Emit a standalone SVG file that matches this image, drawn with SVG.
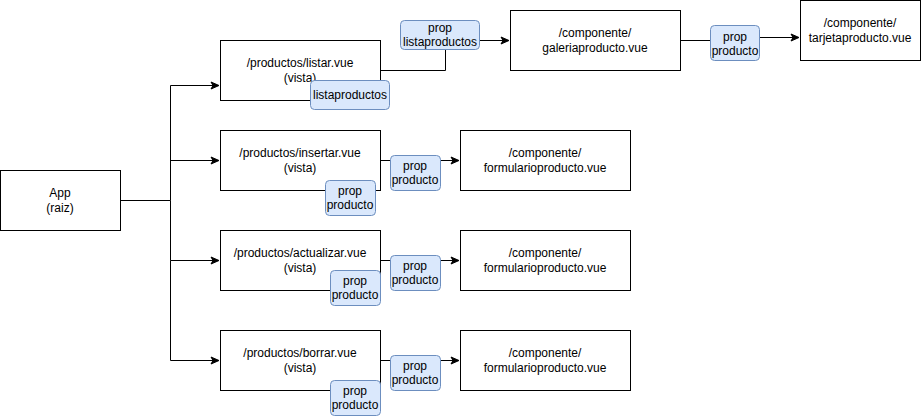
<svg xmlns="http://www.w3.org/2000/svg" width="921" height="416" viewBox="0 0 921 416">
<defs>
<marker id="arr" markerWidth="10" markerHeight="10" refX="8" refY="5" orient="auto" markerUnits="userSpaceOnUse">
<path d="M1,1.5 L9,5 L1,8.5 L3,5 Z" fill="#000" stroke="#000" stroke-width="1"/>
</marker>
<style>
.box{fill:#fff;stroke:#000;stroke-width:1}
.lbl{fill:#dae8fc;stroke:#6c8ebf;stroke-width:1}
text{font-family:"Liberation Sans",Arial,sans-serif;font-size:12px;fill:#000;text-anchor:middle}
.e{fill:none;stroke:#000;stroke-width:1}
</style>
</defs>
<rect width="921" height="416" fill="#fff"/>
<g id="connectors">
<path class="e" d="M120.5,200.5 H170.5 V85.5 H218" marker-end="url(#arr)"/>
<path class="e" d="M170.5,160.5 H218" marker-end="url(#arr)"/>
<path class="e" d="M170.5,200.5 V260.5 H218" marker-end="url(#arr)"/>
<path class="e" d="M170.5,260.5 V360.5 H218" marker-end="url(#arr)"/>
<path class="e" d="M380.5,70.5 H445.5 V40.5 H508" marker-end="url(#arr)"/>
<path class="e" d="M680.5,40.5 H735.5 V37.5 H798" marker-end="url(#arr)"/>
<path class="e" d="M380.5,160.5 H458" marker-end="url(#arr)"/>
<path class="e" d="M380.5,260.5 H458" marker-end="url(#arr)"/>
<path class="e" d="M380.5,360.5 H458" marker-end="url(#arr)"/>
</g>
<g id="app"><rect class="box" x="0.5" y="170.5" width="120" height="60"/><text x="60" y="197">App</text><text x="60" y="212">(raiz)</text></g>
<g id="listar"><rect class="box" x="220.5" y="40.5" width="160" height="60"/><text x="300" y="67">/productos/listar.vue</text><text x="300" y="82">(vista)</text></g>
<g id="insertar"><rect class="box" x="220.5" y="130.5" width="160" height="60"/><text x="300" y="157">/productos/insertar.vue</text><text x="300" y="172">(vista)</text></g>
<g id="actualizar"><rect class="box" x="220.5" y="230.5" width="160" height="60"/><text x="300" y="257">/productos/actualizar.vue</text><text x="300" y="272">(vista)</text></g>
<g id="borrar"><rect class="box" x="220.5" y="330.5" width="160" height="60"/><text x="300" y="357">/productos/borrar.vue</text><text x="300" y="372">(vista)</text></g>
<g id="galeria"><rect class="box" x="510.5" y="10.5" width="170" height="60"/><text x="595" y="37">/componente/</text><text x="595" y="52">galeriaproducto.vue</text></g>
<g id="tarjeta"><rect class="box" x="800.5" y="0.5" width="120" height="60"/><text x="860" y="27">/componente/</text><text x="860" y="42">tarjetaproducto.vue</text></g>
<g id="form1"><rect class="box" x="460.5" y="130.5" width="170" height="60"/><text x="545" y="157">/componente/</text><text x="545" y="172">formularioproducto.vue</text></g>
<g id="form2"><rect class="box" x="460.5" y="230.5" width="170" height="60"/><text x="545" y="257">/componente/</text><text x="545" y="272">formularioproducto.vue</text></g>
<g id="form3"><rect class="box" x="460.5" y="330.5" width="170" height="60"/><text x="545" y="357">/componente/</text><text x="545" y="372">formularioproducto.vue</text></g>
<g id="lbl-listaproductos"><rect class="lbl" x="310.5" y="80.5" width="79" height="29" rx="4"/><text x="350" y="99">listaproductos</text></g>
<g id="lbl-prop-listaproductos"><rect class="lbl" x="400.5" y="20.5" width="79" height="29" rx="4"/><text x="440" y="32">prop</text><text x="440" y="46">listaproductos</text></g>
<g id="lbl-prop-tarjeta"><rect class="lbl" x="710.5" y="25.5" width="49" height="35" rx="4"/><text x="735" y="41">prop</text><text x="735" y="55">producto</text></g>
<g id="lbl-ins-in"><rect class="lbl" x="325.5" y="180.5" width="50" height="35" rx="4"/><text x="350" y="195">prop</text><text x="350" y="209">producto</text></g>
<g id="lbl-act-in"><rect class="lbl" x="330.5" y="270.5" width="50" height="35" rx="4"/><text x="355" y="285">prop</text><text x="355" y="299">producto</text></g>
<g id="lbl-bor-in"><rect class="lbl" x="330.5" y="380.5" width="50" height="35" rx="4"/><text x="355" y="395">prop</text><text x="355" y="409">producto</text></g>
<g id="lbl-ins-out"><rect class="lbl" x="390.5" y="155.5" width="50" height="35" rx="4"/><text x="415" y="170">prop</text><text x="415" y="184">producto</text></g>
<g id="lbl-act-out"><rect class="lbl" x="390.5" y="255.5" width="50" height="35" rx="4"/><text x="415" y="270">prop</text><text x="415" y="284">producto</text></g>
<g id="lbl-bor-out"><rect class="lbl" x="390.5" y="355.5" width="50" height="35" rx="4"/><text x="415" y="370">prop</text><text x="415" y="384">producto</text></g>
</svg>
